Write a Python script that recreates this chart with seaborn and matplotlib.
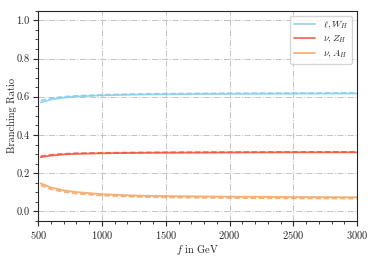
import numpy as np
import pandas as pd
import matplotlib
matplotlib.use("Agg")
import matplotlib.pyplot as plt
import seaborn as sns
from matplotlib.ticker import AutoMinorLocator

# ==============================
# data
# ==============================
f_gev = [520, 600, 700, 800, 1000, 1250, 1500, 2000, 2500, 3000]

br_lW = [0.570, 0.585, 0.595, 0.601, 0.607, 0.611, 0.613, 0.615, 0.616, 0.617]
br_lW_alt = [0.580, 0.592, 0.600, 0.605, 0.610, 0.614, 0.616, 0.618, 0.619, 0.620]
br_nZ = [0.284, 0.292, 0.298, 0.301, 0.304, 0.306, 0.307, 0.308, 0.309, 0.309]
br_nZ_alt = [0.288, 0.296, 0.301, 0.304, 0.306, 0.308, 0.309, 0.310, 0.311, 0.311]
br_nA = [0.147, 0.125, 0.110, 0.101, 0.090, 0.083, 0.080, 0.077, 0.075, 0.074]
br_nA_alt = [0.137, 0.116, 0.102, 0.093, 0.083, 0.077, 0.073, 0.070, 0.068, 0.067]

labels = [r"$\ell,W_H$", r"$\nu,Z_H$", r"$\nu,A_H$"]
colors = ["#87CEEB", "#F4533D", "#F6A35E"]

sns.set_style("ticks")
plt.rcParams["font.family"] = ["cmr10", "DejaVu Serif"]
plt.rcParams["mathtext.fontset"] = "cm"
plt.rcParams["axes.formatter.use_mathtext"] = True
plt.rcParams["font.size"] = 8

fig = plt.figure(figsize=(3.74, 2.56), dpi=100)
ax = fig.add_axes([0.102, 0.137, 0.853, 0.821])

series = [(br_lW, br_lW_alt), (br_nZ, br_nZ_alt), (br_nA, br_nA_alt)]
for (solid, dashed), lab, col in zip(series, labels, colors):
    sns.lineplot(x=f_gev, y=solid, ax=ax, color=col, lw=1.3, alpha=0.85, label=lab)
    sns.lineplot(x=f_gev, y=dashed, ax=ax, color=col, lw=1.3, alpha=0.85,
                 linestyle=(0, (3, 1.5)), label=None)

ax.set_xlim(500, 3000)
ax.set_ylim(-0.05, 1.05)
ax.set_xticks([500, 1000, 1500, 2000, 2500, 3000])
ax.set_yticks([0.0, 0.2, 0.4, 0.6, 0.8, 1.0])
ax.set_yticklabels(["0.0", "0.2", "0.4", "0.6", "0.8", "1.0"])
ax.xaxis.set_minor_locator(AutoMinorLocator(5))
ax.yaxis.set_minor_locator(AutoMinorLocator(4))
ax.tick_params(which="both", direction="out", labelsize=7.5, pad=2.5)
ax.tick_params(which="major", length=3.5)
ax.tick_params(which="minor", length=2)
ax.grid(True, which="major", color="#c4c4c4", linestyle="-.", lw=0.7)

ax.set_xlabel(r"$f$ in GeV", fontsize=7.5, labelpad=1)
ax.set_ylabel("Branching Ratio", fontsize=7.5, labelpad=0)

leg = ax.legend(loc="upper right", fontsize=7, frameon=True, handlelength=2.2,
                borderpad=0.4, labelspacing=0.3)
leg.get_frame().set_edgecolor("#cccccc")

fig.savefig("out.png", dpi=100)
